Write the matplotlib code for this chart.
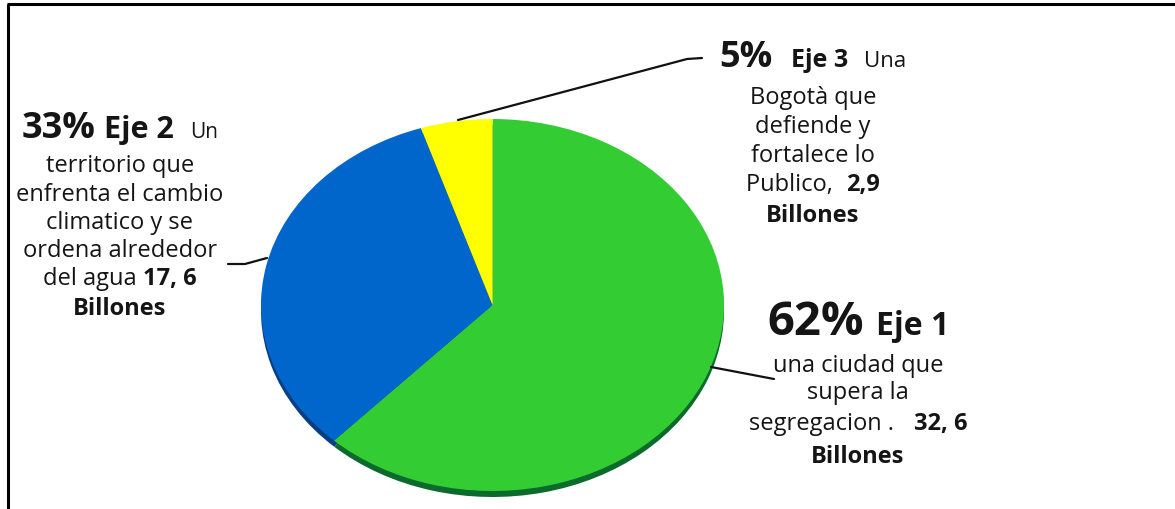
import matplotlib
matplotlib.use("Agg")
import matplotlib.pyplot as plt

W, H, DPI = 1175, 510, 100
FONT = ["Open Sans", "DejaVu Sans"]

# Budget split by axis (percent of total) and amounts in billions
ejes = ["Eje 1", "Eje 2", "Eje 3"]
porcentajes = [62, 33, 5]
billones = ["32, 6", "17, 6", "2,9"]
colores = ["#33CC33", "#0066CC", "#FFFF00"]
colores_sombra = ["#0B6A2C", "#0A3E84", "#8C8C00"]

fig = plt.figure(figsize=(W / DPI, H / DPI), dpi=DPI)
fig.patch.set_facecolor("white")

# Pie drawn as a flattened ellipse with a dark rim below (3-D look)
px0, px1, py0, py1 = 261, 724, 120, 492
ax = fig.add_axes([px0 / W, 1 - py1 / H, (px1 - px0) / W, (py1 - py0) / H])
depth = 6 / ((py1 - py0) / 2)
sombra, _ = ax.pie(porcentajes, colors=colores_sombra, startangle=90,
                   counterclock=False, center=(0, -depth), radius=1,
                   wedgeprops=dict(linewidth=0))
cara, _ = ax.pie(porcentajes, colors=colores, startangle=90,
                 counterclock=False, radius=1,
                 wedgeprops=dict(linewidth=0))
for w in sombra + cara:
    w.set_clip_on(False)
ax.set_xlim(-1, 1)
ax.set_ylim(-1, 1)
ax.set_aspect("auto")
ax.axis("off")

# Overlay in pixel units for labels, leaders and frame
ov = fig.add_axes([0, 0, 1, 1])
ov.set_xlim(0, W)
ov.set_ylim(H, 0)
ov.axis("off")
ov.patch.set_alpha(0)

ov.plot([7, W], [5, 5], color="black", lw=2.2, solid_capstyle="butt")
ov.plot([7.5, 7.5], [5, H], color="black", lw=2.2, solid_capstyle="butt")

fig.canvas.draw()
renderer = fig.canvas.get_renderer()
INK = "#151515"


def linea(cx, y, runs):
    """Centred line made of runs (text, size, weight) or numeric gaps."""
    items = []
    for r in runs:
        if isinstance(r, (int, float)):
            items.append(("gap", r))
        else:
            s, size, weight = r
            t = ov.text(0, y, s, fontsize=size, fontweight=weight,
                        family=FONT, va="baseline", ha="left", color=INK)
            items.append(("t", t))
    widths = []
    for kind, v in items:
        widths.append(v if kind == "gap" else v.get_window_extent(renderer).width)
    x = cx - sum(widths) / 2
    for (kind, v), w in zip(items, widths):
        if kind == "t":
            v.set_x(x)
        x += w


B = 17   # body size
# Eje 2 label (left)
cx = 120
linea(cx, 138, [("33%", 26, "bold"), 9, (ejes[1], 22, "bold"), 16, ("Un", 15, "normal")])
linea(cx, 172, [("territorio que", B, "normal")])
linea(cx, 201, [("enfrenta el cambio", B, "normal")])
linea(cx, 229, [("climatico y se", B, "normal")])
linea(cx, 257, [("ordena alrededor", B, "normal")])
linea(cx, 285, [("del agua ", B, "normal"), (billones[1], B, "bold")])
linea(cx, 315, [("Billones", B, "bold")])

# Eje 3 label (top right)
cx = 813
linea(cx, 67, [("5%", 26, "bold"), 18, (ejes[2], 18, "bold"), 16, ("Una", 16, "normal")])
linea(cx, 104, [("Bogotà que", B, "normal")])
linea(cx, 133, [("defiende y", B, "normal")])
linea(cx, 162, [("fortalece lo", B, "normal")])
linea(cx, 191, [("Publico,  ", B, "normal"), (billones[2], B, "bold")])
linea(cx, 222, [("Billones", B, "bold")])

# Eje 1 label (bottom right)
cx = 858
linea(cx, 335, [("62%", 34, "bold"), 12, (ejes[0], 23, "bold")])
linea(cx, 372, [("una ciudad que", B, "normal")])
linea(cx, 399, [("supera la", B, "normal")])
linea(cx, 430, [("segregacion .  ", B, "normal"), 8, (billones[0], B, "bold")])
linea(cx, 463, [("Billones", B, "bold")])

# Leader lines
lk = dict(color="#111111", lw=1.6, solid_capstyle="round")
ov.plot([458, 687, 702], [121, 60, 59], **lk)
ov.plot([267, 245, 228], [259, 265, 265], **lk)
ov.plot([711, 774], [368, 380], **lk)

fig.savefig("out.png", dpi=DPI, facecolor="white")
